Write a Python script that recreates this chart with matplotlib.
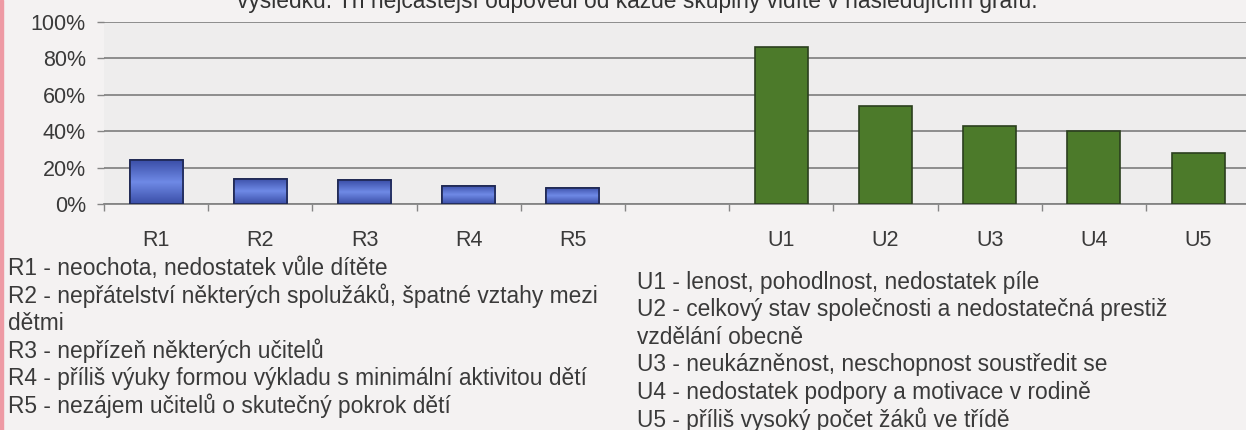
import matplotlib.pyplot as plt
from matplotlib.patches import Rectangle
from matplotlib.colors import LinearSegmentedColormap
import numpy as np

plt.rcParams['font.family'] = ['Liberation Sans', 'DejaVu Sans']

# Data (share of answers)
r_labels = ['R1', 'R2', 'R3', 'R4', 'R5']
r_values = [0.24, 0.14, 0.13, 0.10, 0.09]
u_labels = ['U1', 'U2', 'U3', 'U4', 'U5']
u_values = [0.86, 0.54, 0.43, 0.40, 0.28]
y_ticks = [0, 0.2, 0.4, 0.6, 0.8, 1.0]
y_ticklabels = ['0%', '20%', '40%', '60%', '80%', '100%']

title_text = 'výsledku. Tři nejčastější odpovědi od každé skupiny vidíte v následujícím grafu.'
r_notes = ['R1 - neochota, nedostatek vůle dítěte',
           'R2 - nepřátelství některých spolužáků, špatné vztahy mezi',
           'dětmi',
           'R3 - nepřízeň některých učitelů',
           'R4 - příliš výuky formou výkladu s minimální aktivitou dětí',
           'R5 - nezájem učitelů o skutečný pokrok dětí']
u_notes = ['U1 - lenost, pohodlnost, nedostatek píle',
           'U2 - celkový stav společnosti a nedostatečná prestiž',
           'vzdělání obecně',
           'U3 - neukázněnost, neschopnost soustředit se',
           'U4 - nedostatek podpory a motivace v rodině',
           'U5 - příliš vysoký počet žáků ve třídě']

# positions: five R slots, one empty slot, five U slots
r_pos = np.arange(len(r_labels))
u_pos = np.arange(len(u_labels)) + len(r_labels) + 1
n_slots = len(r_labels) + 1 + len(u_labels)

W, H = 1246, 430
fig = plt.figure(figsize=(W / 100, H / 100), dpi=100, facecolor='#f4f2f2')
ax = fig.add_axes([104 / W, 1 - 204 / H, (n_slots * 104.2) / W, 182 / H])
ax.set_facecolor('#eeeded')

r_bars = ax.bar(r_pos, r_values, width=0.51, color='#5a72d0', edgecolor='#1e2752', linewidth=1.2, zorder=3)
ax.bar(u_pos, u_values, width=0.51, color='#4c7a2a', edgecolor='#2b3f1e', linewidth=1.2, zorder=3)

# blue bars have a shaded (cylinder-like) look in the scan
blue_cmap = LinearSegmentedColormap.from_list('blue_shade', ['#3b4fa8', '#6f8ae6', '#3b4fa8'])
grad = np.linspace(0, 1, 64).reshape(-1, 1)
for b in r_bars:
    x0, y0 = b.get_x(), b.get_y()
    im = ax.imshow(grad, cmap=blue_cmap, aspect='auto', zorder=3.5,
                   extent=(x0, x0 + b.get_width(), y0, y0 + b.get_height()))
    im.set_clip_path(b)
    ax.add_patch(Rectangle((x0, y0), b.get_width(), b.get_height(), fill=False,
                           edgecolor='#1e2752', linewidth=1.2, zorder=4))

ax.set_xlim(-0.5, n_slots - 0.5)
ax.set_ylim(0, 1.0)
ax.set_yticks(y_ticks)
ax.set_yticklabels(y_ticklabels, fontsize=15.5, color='#3a3a3a')
ax.yaxis.grid(True, color='#858585', linewidth=1.3, zorder=0)
ax.tick_params(axis='y', length=5, width=1, color='#858585', pad=8)

# category boundary ticks, labels at centers
ax.set_xticks(np.arange(-0.5, n_slots, 1.0))
ax.set_xticklabels([])
ax.tick_params(axis='x', which='major', length=5, width=1, color='#858585', direction='out')
ax.set_xticks(list(r_pos) + list(u_pos), minor=True)
ax.set_xticklabels(r_labels + u_labels, minor=True, fontsize=15.5, color='#3a3a3a')
ax.tick_params(axis='x', which='minor', length=0, pad=19)

for s in ['top', 'right', 'left']:
    ax.spines[s].set_visible(False)
ax.spines['bottom'].set_color('#858585')
ax.spines['bottom'].set_linewidth(1.3)

fig.text(637 / W, 1 - 8 / H, title_text, ha='center', va='baseline', fontsize=16.4, color='#333333')

for i, line in enumerate(r_notes):
    fig.text(8 / W, 1 - (268 + 27.6 * i) / H, line, ha='left', va='center', fontsize=16.4, color='#3a3a3a')
for i, line in enumerate(u_notes):
    fig.text(637 / W, 1 - (282 + 27.6 * i) / H, line, ha='left', va='center', fontsize=16.4, color='#3a3a3a')

# red page edge on the left of the scan
fig.patches.append(Rectangle((0, 0), 3 / W, 1, transform=fig.transFigure, color='#ee9aa4', zorder=5))

fig.savefig('out.png', dpi=100, facecolor=fig.get_facecolor())
